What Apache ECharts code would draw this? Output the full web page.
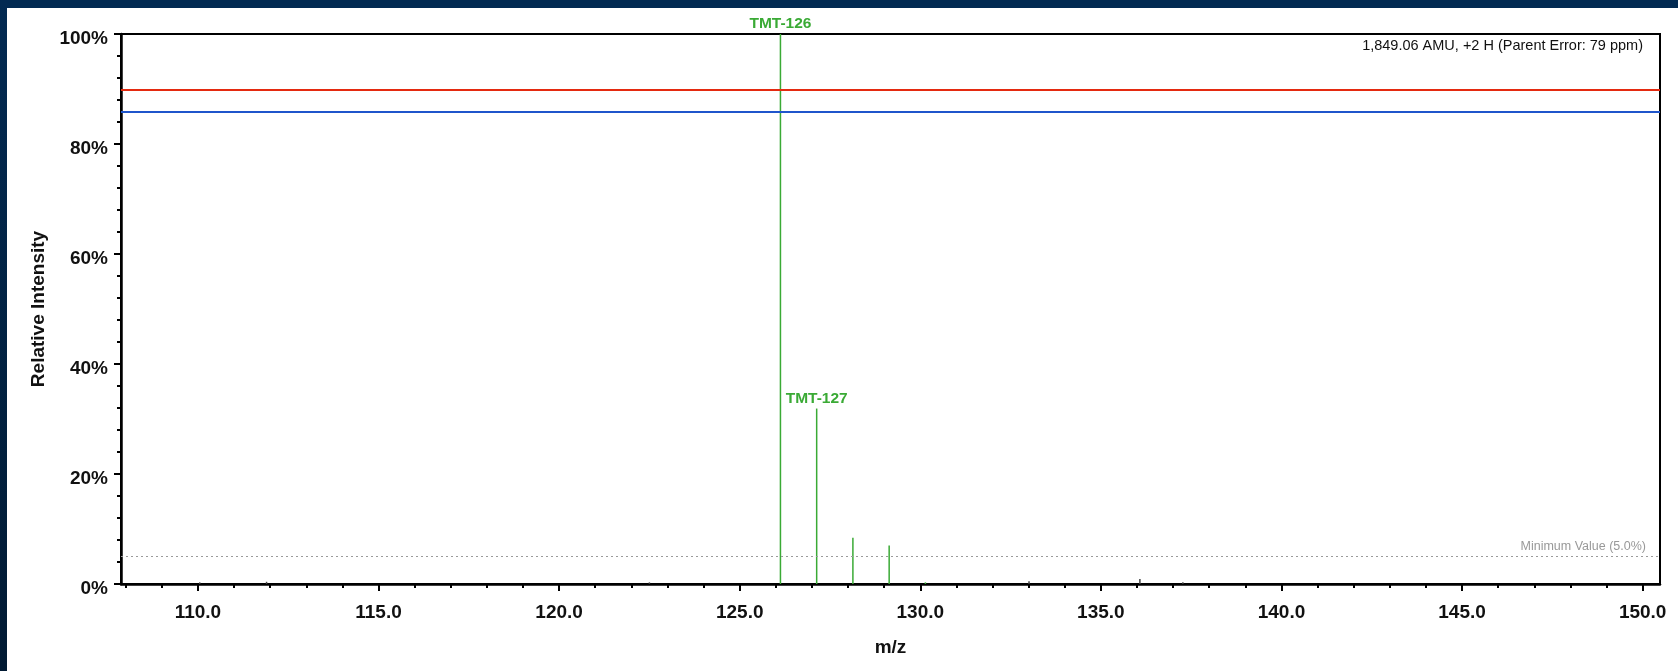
<!DOCTYPE html>
<html>
<head>
<meta charset="utf-8">
<script src="https://cdn.jsdelivr.net/npm/echarts@6/dist/echarts.min.js"></script>
<style>
  html, body { margin: 0; padding: 0; background: #ffffff; }
  #chart { width: 1678px; height: 671px; }
</style>
</head>
<body>
<div id="chart"></div>
<script>
// Reporter ion peaks (m/z, relative intensity %, label)
const reporterMz = [126.128, 127.131, 128.134, 129.138, 130.141];
const reporterIntensity = [100, 31.9, 8.4, 7.0, 0.3];
const reporterLabels = ['TMT-126', 'TMT-127', '', '', ''];

// Small peaks below the minimum value
const minorMz = [110.05, 111.9, 122.5, 133.01, 136.08, 137.27];
const minorIntensity = [0.3, 0.4, 0.3, 0.5, 0.9, 0.3];

// Reference levels (%)
const redLevel = 89.8;
const blueLevel = 85.9;
const minimumValue = 5.0;

// Axis extents and tick values
const mzMin = 107.87;
const mzMax = 150.48;
const majorTicks = [110, 115, 120, 125, 130, 135, 140, 145, 150];
const minorTicks = [];
for (let v = 108; v <= 150; v++) minorTicks.push(v);

const precursorText = '1,849.06 AMU, +2 H (Parent Error: 79 ppm)';

const FONT = '"Liberation Sans", Arial, sans-serif';
const GREEN = '#3aaa35';

const chart = echarts.init(document.getElementById('chart'), null, { renderer: 'canvas' });

function stickRenderer(color, withLabels, labels) {
  return function (params, api) {
    const x = api.value(0);
    const y = api.value(1);
    const base = api.coord([x, 0]);
    const top = api.coord([x, y]);
    const children = [{
      type: 'line',
      shape: { x1: base[0], y1: base[1], x2: top[0], y2: top[1] },
      style: { stroke: color, lineWidth: 1.5 }
    }];
    if (withLabels && labels[params.dataIndex]) {
      children.push({
        type: 'text',
        x: top[0],
        y: top[1] - 2,
        style: {
          text: labels[params.dataIndex],
          fill: color,
          font: 'bold 15.5px ' + FONT,
          align: 'center',
          verticalAlign: 'bottom'
        }
      });
    }
    return { type: 'group', children: children };
  };
}

const option = {
  backgroundColor: '#ffffff',
  animation: false,
  textStyle: { fontFamily: FONT },
  grid: {
    left: 121, right: 18, top: 34, bottom: 87,
    show: true, borderColor: '#000', borderWidth: 2, backgroundColor: 'transparent'
  },
  graphic: [
    { type: 'rect', left: 0, top: 0, z: 100, shape: { width: 1678, height: 8 }, style: { fill: '#022a52' } },
    {
      type: 'rect', left: 0, top: 0, z: 100, shape: { width: 7, height: 671 },
      style: {
        fill: new echarts.graphic.LinearGradient(0, 0, 0, 1, [
          { offset: 0, color: '#022a52' },
          { offset: 1, color: '#011a33' }
        ])
      }
    },
    {
      type: 'text', right: 35, top: 38, z: 50,
      style: { text: precursorText, fill: '#111', font: '14.5px ' + FONT }
    }
  ],
  xAxis: [
    {
      type: 'value', min: mzMin, max: mzMax, position: 'bottom',
      name: 'm/z', nameLocation: 'middle', nameGap: 54,
      nameTextStyle: { fontSize: 19, fontWeight: 'bold', color: '#111', fontFamily: FONT },
      axisLine: { show: true, onZero: false, lineStyle: { color: '#000', width: 2.5 } },
      axisTick: { show: true, length: 7, customValues: majorTicks, lineStyle: { color: '#000', width: 2 } },
      axisLabel: {
        customValues: majorTicks, margin: 19,
        formatter: v => v.toFixed(1),
        fontSize: 19, fontWeight: 'bold', color: '#111', fontFamily: FONT
      },
      splitLine: { show: false }
    },
    {
      type: 'value', min: mzMin, max: mzMax, position: 'bottom',
      axisLine: { show: false, onZero: false },
      axisTick: { show: true, length: 4, customValues: minorTicks, lineStyle: { color: '#000', width: 2 } },
      axisLabel: { show: false },
      splitLine: { show: false }
    }
  ],
  yAxis: {
    type: 'value', min: 0, max: 100, interval: 20,
    name: 'Relative Intensity', nameLocation: 'middle', nameGap: 70,
    nameTextStyle: { fontSize: 19, fontWeight: 'bold', color: '#111', fontFamily: FONT },
    axisLine: { show: true, lineStyle: { color: '#000', width: 2.5 } },
    axisTick: { show: true, length: 7, lineStyle: { color: '#000', width: 2 } },
    minorTick: { show: true, splitNumber: 5, length: 4, lineStyle: { color: '#000', width: 2 } },
    axisLabel: {
      formatter: '{value}%', margin: 13, verticalAlign: 'top', lineHeight: 9,
      fontSize: 19, fontWeight: 'bold', color: '#111', fontFamily: FONT
    },
    splitLine: { show: false }
  },
  series: [
    {
      name: 'levels', type: 'line', data: [], silent: true, z: 1,
      markLine: {
        silent: true, symbol: 'none', animation: false,
        data: [
          {
            yAxis: minimumValue,
            lineStyle: { color: '#9a9a9a', type: [2, 3], width: 1.2 },
            label: {
              show: true, position: 'insideEndTop', distance: [14, 3],
              formatter: 'Minimum Value (' + minimumValue.toFixed(1) + '%)',
              color: '#999', fontSize: 12.5, fontFamily: FONT
            }
          }
        ]
      }
    },
    {
      name: 'minor', type: 'custom', xAxisIndex: 0, z: 2,
      data: minorMz.map((m, i) => [m, minorIntensity[i]]),
      renderItem: stickRenderer('#444', false, [])
    },
    {
      name: 'reporter', type: 'custom', xAxisIndex: 0, z: 3,
      data: reporterMz.map((m, i) => [m, reporterIntensity[i]]),
      renderItem: stickRenderer(GREEN, true, reporterLabels)
    },
    {
      name: 'refLines', type: 'line', data: [], silent: true, z: 4,
      markLine: {
        silent: true, symbol: 'none', animation: false, label: { show: false },
        data: [
          { yAxis: redLevel, lineStyle: { color: '#e42a10', type: 'solid', width: 2 } },
          { yAxis: blueLevel, lineStyle: { color: '#1f55cb', type: 'solid', width: 2 } }
        ]
      }
    }
  ]
};

chart.setOption(option);
</script>
</body>
</html>
